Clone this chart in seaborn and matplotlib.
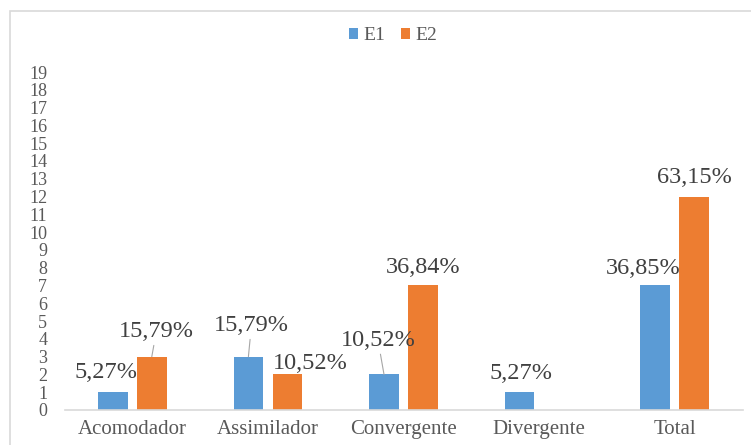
import matplotlib
matplotlib.use("Agg")
import matplotlib.pyplot as plt
from matplotlib.patches import Rectangle
import seaborn as sns
import pandas as pd

# Data
categories = ["Acomodador", "Assimilador", "Convergente", "Divergente", "Total"]
series = ["E1", "E2"]
e1_values = [1, 3, 2, 1, 7]
e2_values = [3, 2, 7, 0, 12]
e1_labels = ["5,27%", "15,79%", "10,52%", "5,27%", "36,85%"]
e2_labels = ["15,79%", "10,52%", "36,84%", "", "63,15%"]
y_ticks = list(range(0, 20))

colors = {"E1": "#5B9BD5", "E2": "#ED7D31"}

df = pd.DataFrame({
    "Categoria": categories * 2,
    "Série": ["E1"] * len(categories) + ["E2"] * len(categories),
    "Valor": e1_values + e2_values,
})

sns.set_theme(style="white")
plt.rcParams["font.family"] = ["Liberation Serif", "DejaVu Serif"]

fig = plt.figure(figsize=(7.51, 4.45), dpi=100)
ax = fig.add_axes([64.5 / 751, 1 - 410 / 445, 678 / 751, (410 - 72) / 445])

sns.barplot(data=df, x="Categoria", y="Valor", hue="Série", order=categories,
            hue_order=series, palette=colors, width=0.575, gap=0.24,
            linewidth=0, saturation=1, ax=ax, legend=True)

ax.set_xlim(-0.5, 4.5)
ax.set_ylim(0, 19)
ax.set_yticks(y_ticks)
ax.set_xlabel("")
ax.set_ylabel("")
for s in ["left", "right", "top"]:
    ax.spines[s].set_visible(False)
ax.spines["bottom"].set_color("#D9D9D9")
ax.spines["bottom"].set_linewidth(1.2)
ax.tick_params(axis="y", length=0, pad=12.5, labelsize=13, labelcolor="#595959")
ax.tick_params(axis="x", length=0, pad=7, labelsize=15, labelcolor="#595959")
ax.grid(False)

# Data label placement (pixel offsets from each bar's top centre) and leader lines
e1_offsets = [(-6.5, 20, False), (3, 31, True), (-6, 34, True), (1, 19, False), (-12.5, 17, False)]
e2_offsets = [(4.5, 25, True), (23, 11, False), (0, 18, False), (0, 0, False), (0, 19, False)]

for container, labels, offsets in zip(ax.containers, [e1_labels, e2_labels], [e1_offsets, e2_offsets]):
    for bar, text, (dx, dy, leader) in zip(container.patches, labels, offsets):
        if not text:
            continue
        xc = bar.get_x() + bar.get_width() / 2
        top = bar.get_height()
        arrow = dict(arrowstyle="-", color="#A6A6A6", lw=0.8, shrinkA=0, shrinkB=0) if leader else None
        ax.annotate(text, xy=(xc, top), xytext=(dx, dy), textcoords="offset pixels",
                    ha="center", va="center", fontsize=17.5, color="#404040",
                    arrowprops=arrow)

# Legend across the top
leg = ax.legend(loc="center", bbox_to_anchor=(393 / 751, 1 - 36 / 445),
                bbox_transform=fig.transFigure, ncol=2, frameon=False,
                fontsize=14, handlelength=0.45, handleheight=0.45,
                handletextpad=0.3, columnspacing=0.8, title=None)
for t in leg.get_texts():
    t.set_color("#595959")

# Chart area border
fig.patches.append(Rectangle((10 / 751, -0.1), 1.2, 0.1 + 1 - 11 / 445,
                             transform=fig.transFigure, fill=False,
                             edgecolor="#D9D9D9", linewidth=1.2))

fig.savefig("out.png", dpi=100)
